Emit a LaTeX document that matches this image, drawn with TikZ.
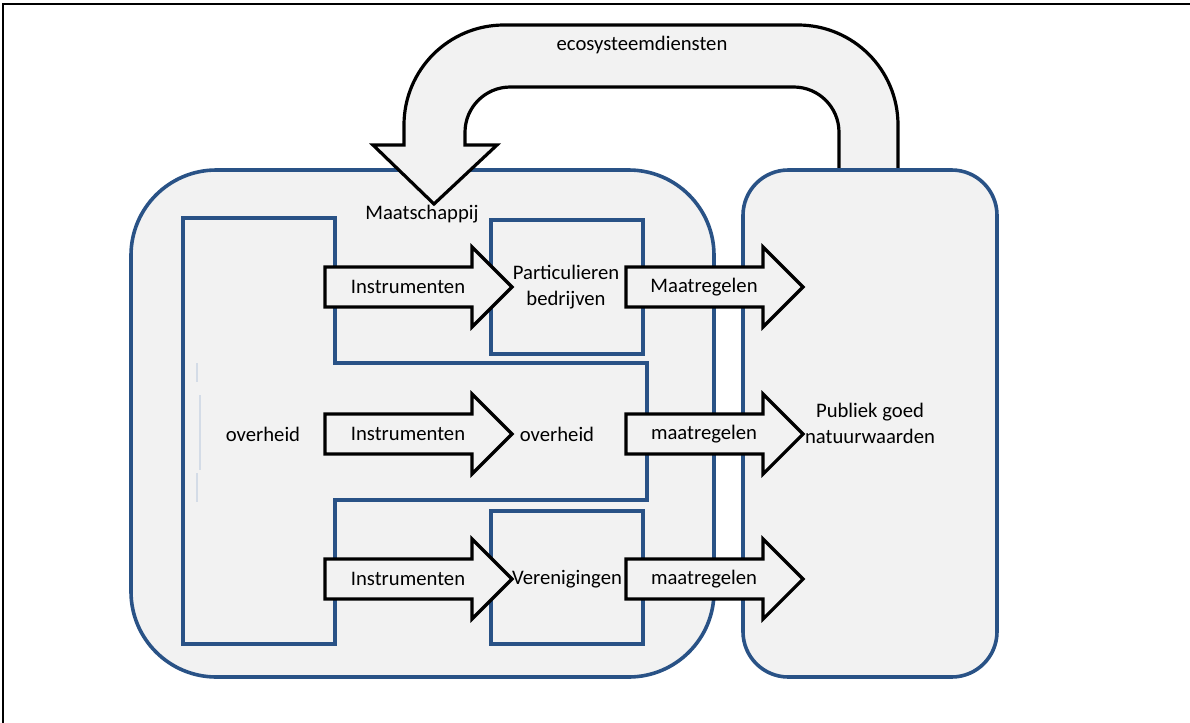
\documentclass[tikz,border=0pt]{standalone}
\usepackage{fontspec}
\setmainfont{Carlito}

\definecolor{rand}{RGB}{41,82,134}
\definecolor{vlak}{RGB}{242,242,242}

% block arrow: x of tail, x of tip, y of middle
\newcommand{\blokpijl}[3]{%
  \draw[pijl] (#1,#3-20) -- (#2-40,#3-20) -- (#2-40,#3-40) -- (#2,#3)
    -- (#2-40,#3+40) -- (#2-40,#3+20) -- (#1,#3+20) -- cycle;}

\begin{document}
\begin{tikzpicture}[x=0.75pt, y=-0.75pt,
    every node/.style={font=\fontsize{15.5}{19.5}\selectfont, inner sep=0pt, align=center},
    blok/.style={draw=rand, fill=vlak, line width=2.7pt},
    pijl/.style={draw=black, fill=vlak, line width=2.4pt, line join=miter},
    lus/.style={draw=black, fill=vlak, line width=2.4pt}]

      \useasboundingbox (0,0) rectangle (1190,722);

      % outer frame
      \draw[line width=2.2pt] (3,730) -- (3,4) -- (1200,4);

      % Define the two big areas
      \draw[blok, rounded corners=64pt] (131,170) rectangle (714,677);

      \draw[lus] (898,170) [rounded corners=75pt] -- (898,25) -- (404,25)
        [sharp corners] -- (404,145) -- (373,145) -- (434,204) -- (497,145) -- (465,145)
        [rounded corners=34pt] -- (465,87) -- (839,87) [sharp corners] -- (839,170);

      \draw[blok, rounded corners=34pt] (743,170) rectangle (997,677);

      % overheid shape and the two boxes
      \draw[blok, line join=miter] (183,218) -- (335,218) -- (335,363) -- (647,363)
        -- (647,500) -- (335,500) -- (335,644) -- (183,644) -- cycle;
      \draw[blok] (491,220) rectangle (643,354);
      \draw[blok] (491,511) rectangle (643,644);

      % faint marks
      \draw[color=rand!20, line width=0.8pt] (197,363) -- (197,382);
      \draw[color=rand!20, line width=0.8pt] (200,395) -- (200,470);
      \draw[color=rand!20, line width=0.8pt] (197,473) -- (197,502);

      % Draw the arrows
      \blokpijl{325}{512}{287}
      \blokpijl{325}{512}{434}
      \blokpijl{325}{512}{579}

      \blokpijl{626}{803}{287}
      \blokpijl{626}{803}{434}
      \blokpijl{626}{803}{579}

      % Define the positions of the nodes
      \node (eco) at (642,45) {ecosysteemdiensten};
      \node (maat) at (422,214) {Maatschappij};

      \node (ovh) at (263,434) {overheid};

      \node (ins1) at (408,287) {Instrumenten};
      \node (ins2) at (408,434) {Instrumenten};
      \node (ins3) at (408,579) {Instrumenten};

      \node (part) at (566,287) {Particulieren\\bedrijven};
      \node (ovh2) at (557,434) {overheid};
      \node (ver) at (567,579) {Verenigingen};

      \node (mr1) at (704,287) {Maatregelen};
      \node (mr2) at (704,434) {maatregelen};
      \node (mr3) at (704,579) {maatregelen};

      \node (pub) at (870,423) {Publiek goed\\natuurwaarden};
  \end{tikzpicture}
\end{document}
